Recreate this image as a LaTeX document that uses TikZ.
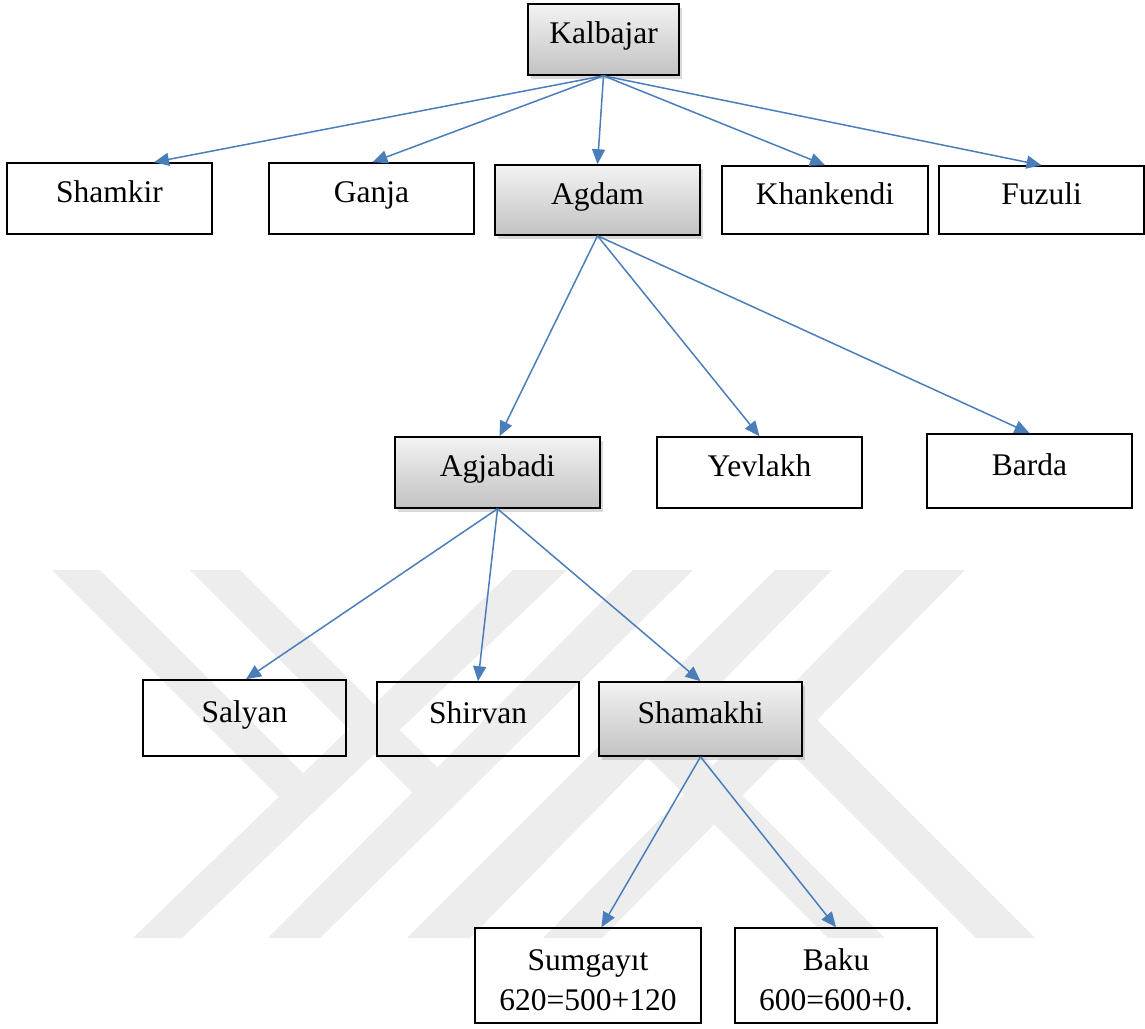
\documentclass[tikz,border=0pt]{standalone}
\usepackage{fontspec}
\setmainfont{Liberation Serif}
\usetikzlibrary{arrows.meta,shadows}

\definecolor{linkblue}{HTML}{4A7EBB}
\definecolor{hubtop}{HTML}{F3F3F3}
\definecolor{hubbot}{HTML}{C2C2C2}
\definecolor{wmgray}{HTML}{EDEDED}
\newcommand\cityfont{\fontsize{31.5}{40}\selectfont}

\tikzset{
  cell/.style={draw=black, line width=1.6pt, inner sep=0pt, font=\cityfont, align=center},
  oneline/.style={cell, text height=19.5pt, text depth=10.7pt},
  hub/.style={oneline, top color=hubtop, bottom color=hubbot,
    drop shadow={opacity=0.3, shadow xshift=3pt, shadow yshift=-4pt}},
  link/.style={draw=linkblue, line width=1.5pt, -{Triangle[length=15pt,width=13pt]}},
  wmark/.style={fill=wmgray, draw=none}
}

\begin{document}
\begin{tikzpicture}[x=1pt,y=-1pt]
\useasboundingbox (0,0) rectangle (1145,1028);

% background emblem: slanted stems with short arms and legs
\fill[wmark] (513,570) -- (567,570) -- (182,938) -- (133,938) -- cycle;
\fill[wmark] (633,570) -- (693,570) -- (320,938) -- (268,938) -- cycle;
\fill[wmark] (775,570) -- (832,570) -- (470,938) -- (407,938) -- cycle;
\fill[wmark] (905,570) -- (965,570) -- (602,938) -- (543,938) -- cycle;
\fill[wmark] (52,570) -- (100,570) -- (315.7,785.7) -- (291.3,809.3) -- cycle;
\fill[wmark] (190,570) -- (240,570) -- (451.2,781.2) -- (426.2,806.2) -- cycle;
\fill[wmark] (660.8,713.8) -- (885,938) -- (828,938) -- (632.5,742.5) -- cycle;
\fill[wmark] (802,705) -- (1035,938) -- (976,938) -- (772.7,734.7) -- cycle;

% level 0
\node[hub, minimum width=151pt, minimum height=71pt] (kal) at (603.5,39.5) {Kalbajar};

% level 1
\node[oneline, minimum width=205pt, minimum height=71pt] (sham) at (109.5,198.5) {Shamkir};
\node[oneline, minimum width=205pt, minimum height=71pt] (gan) at (371.5,198.5) {Ganja};
\node[hub, minimum width=205pt, minimum height=70pt] (agd) at (597.5,200) {Agdam};
\node[oneline, minimum width=206pt, minimum height=68pt] (khan) at (825,200) {Khankendi};
\node[oneline, minimum width=205pt, minimum height=68pt] (fuz) at (1041.5,200) {Fuzuli};

% level 2
\node[hub, minimum width=205pt, minimum height=71pt] (agj) at (497.5,472.5) {Agjabadi};
\node[oneline, minimum width=205pt, minimum height=71pt] (yev) at (759.5,472.5) {Yevlakh};
\node[oneline, minimum width=205pt, minimum height=74pt] (bar) at (1029.5,471) {Barda};

% level 3
\node[oneline, minimum width=203pt, minimum height=76pt] (sal) at (244.5,718) {Salyan};
\node[oneline, minimum width=202pt, minimum height=74pt] (shir) at (478,719) {Shirvan};
\node[hub, minimum width=203pt, minimum height=74pt] (shk) at (700.5,719) {Shamakhi};

% level 4
\node[cell, minimum width=226pt, minimum height=95pt] (sum) at (588,975.5)
  {\rule{0pt}{31pt}Sumgayıt\\620=500+120};
\node[cell, minimum width=202pt, minimum height=95pt] (baku) at (836,975.5)
  {\rule{0pt}{31pt}Baku\\600=600+0.};

% connectors
\draw[link] (kal.south) -- ([xshift=44.5pt]sham.north);
\draw[link] (kal.south) -- ([xshift=1pt]gan.north);
\draw[link] (kal.south) -- (agd.north);
\draw[link] (kal.south) -- (khan.north);
\draw[link] (kal.south) -- (fuz.north);

\draw[link] (agd.south) -- ([xshift=2pt]agj.north);
\draw[link] (agd.south) -- (yev.north);
\draw[link] (agd.south) -- (bar.north);

\draw[link] (agj.south) -- ([xshift=1.5pt]sal.north);
\draw[link] (agj.south) -- (shir.north);
\draw[link] (agj.south) -- (shk.north);

\draw[link] (shk.south) -- ([xshift=13.5pt]sum.north);
\draw[link] (shk.south) -- (baku.north);
\end{tikzpicture}
\end{document}
